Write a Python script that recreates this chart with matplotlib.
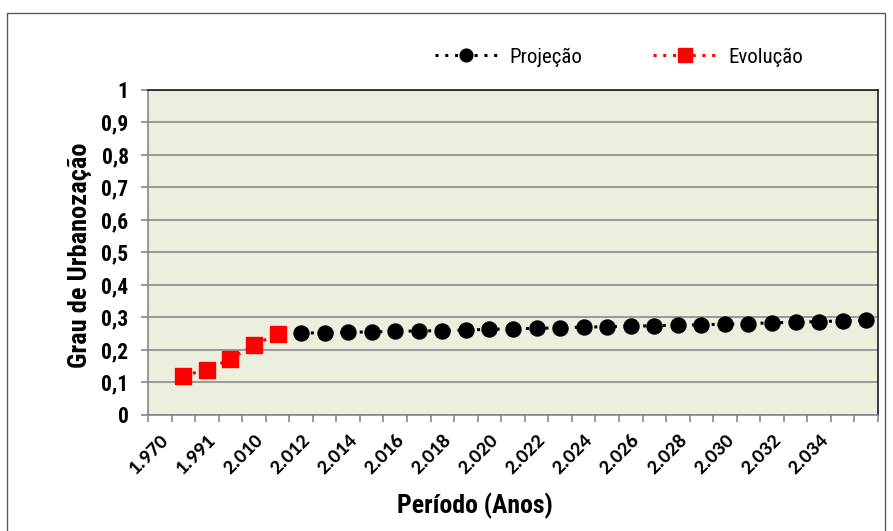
import os
import matplotlib
matplotlib.use("Agg")
import matplotlib.pyplot as plt
import matplotlib.font_manager as fm
import numpy as np
from matplotlib.patches import Rectangle

# ---- data ----
categories = ["1.970", "1.980", "1.991", "2.000", "2.010", "2.011",
              "2.012", "2.013", "2.014", "2.015", "2.016", "2.017", "2.018",
              "2.019", "2.020", "2.021", "2.022", "2.023", "2.024", "2.025",
              "2.026", "2.027", "2.028", "2.029", "2.030", "2.031", "2.032",
              "2.033", "2.034", "2.035", "2.036"]
evolucao = [np.nan, 0.120, 0.137, 0.171, 0.214, 0.248] + [np.nan] * 25
projecao = [np.nan] * 6 + [0.250, 0.252, 0.253, 0.254, 0.256, 0.257, 0.258,
                           0.260, 0.262, 0.264, 0.265, 0.267, 0.269, 0.270,
                           0.272, 0.273, 0.275, 0.276, 0.278, 0.280, 0.282,
                           0.284, 0.286, 0.288, 0.290]
yticks = [0, 0.1, 0.2, 0.3, 0.4, 0.5, 0.6, 0.7, 0.8, 0.9, 1.0]
ytick_labels = ["0", "0,1", "0,2", "0,3", "0,4", "0,5", "0,6", "0,7", "0,8", "0,9", "1"]


def find_narrow(bold):
    files = [f.fname for f in fm.fontManager.ttflist]
    prefs = ["LiberationSansNarrow", "RobotoCondensed", "Roboto_Condensed",
             "NotoSans-Condensed", "NotoSans_Condensed", "OpenSans-Condensed",
             "OpenSans_Condensed", "DejaVuSansCondensed"]
    for p in prefs:
        for fn in files:
            b = os.path.basename(fn)
            if p.lower() not in b.lower().replace(" ", ""):
                continue
            if "italic" in b.lower() or "oblique" in b.lower():
                continue
            low = b.lower()
            isbold = ("bold" in low) and not any(k in low for k in ["semibold", "extrabold", "semi", "extra"])
            if bold and isbold:
                return fn
            if not bold and ("bold" not in low) and not any(k in low for k in ["light", "thin", "medium", "black"]):
                return fn
    return None


nb = find_narrow(True)
nr = find_narrow(False)


def narrow(size, bold=True):
    fn = nb if bold else nr
    if fn:
        return fm.FontProperties(fname=fn, size=size)
    return fm.FontProperties(family="Roboto", weight="bold" if bold else "normal", size=size)


names = {f.name for f in fm.fontManager.ttflist}
tickfam = next((n for n in ["Carlito", "Lato", "Open Sans"] if n in names), "DejaVu Sans")

W, H = 893, 531
fig = plt.figure(figsize=(W / 100, H / 100), dpi=100)
fig.patch.set_facecolor("white")

fig.patches.append(Rectangle((7 / W, -0.02), (885 - 7) / W, (H - 13) / H + 0.02,
                             transform=fig.transFigure, fill=False,
                             edgecolor="#595959", linewidth=1.0))

L, R, T, B = 148, 878, 89.5, 414.5
ax = fig.add_axes([L / W, 1 - B / H, (R - L) / W, (B - T) / H])
ax.set_facecolor("#EBEFDD")

x = np.arange(len(categories))
ax.plot(x, projecao, linestyle=(0, (1, 2.2)), linewidth=2.2, color="black",
        marker="o", markersize=10.8, label="Projeção", zorder=3)
ax.plot(x, evolucao, linestyle=(0, (1, 2.2)), linewidth=2.2, color="#FF0000",
        marker="s", markersize=11.5, label="Evolução", zorder=3)

ax.set_xlim(-0.5, len(categories) - 0.5)
ax.set_ylim(0, 1)

ax.set_yticks(yticks)
ax.set_yticklabels(ytick_labels)
for t in ax.get_yticklabels():
    t.set_fontproperties(narrow(15.5))
ax.tick_params(axis="y", length=5, width=1.2, color="#868686", pad=9)
ax.yaxis.grid(True, color="#8C8C8C", linewidth=1.2)
ax.set_axisbelow(True)

lab_idx = x[:-1:2]
ax.set_xticks(lab_idx)
ax.set_xticklabels([categories[i] for i in lab_idx], rotation=45, ha="right",
                   rotation_mode="anchor", fontfamily=tickfam,
                   fontweight="heavy", fontsize=15)
ax.tick_params(axis="x", which="major", length=0, pad=12)
ax.set_xticks(np.arange(len(categories) + 1) - 0.5, minor=True)
ax.tick_params(axis="x", which="minor", length=5, width=1.2, color="#868686")

for s in ["left", "bottom"]:
    ax.spines[s].set_color("#868686")
    ax.spines[s].set_linewidth(1.2)
for s in ["top", "right"]:
    ax.spines[s].set_color("#1a1a1a")
    ax.spines[s].set_linewidth(1.2)

fig.text(80 / W, 1 - 255 / H, "Grau de Urbanozação", rotation=90,
         ha="center", va="center", fontproperties=narrow(19))
fig.text(475 / W, 1 - 506 / H, "Período (Anos)", ha="center", va="center",
         fontproperties=narrow(18.5))

fig.legend(loc="center", bbox_to_anchor=(619 / W, 1 - 57 / H), ncol=2,
           frameon=False, numpoints=1, markerscale=0.85, handlelength=3.0,
           handletextpad=0.6, columnspacing=3.4, prop=narrow(15, bold=False))

fig.savefig("out.png", dpi=100)
